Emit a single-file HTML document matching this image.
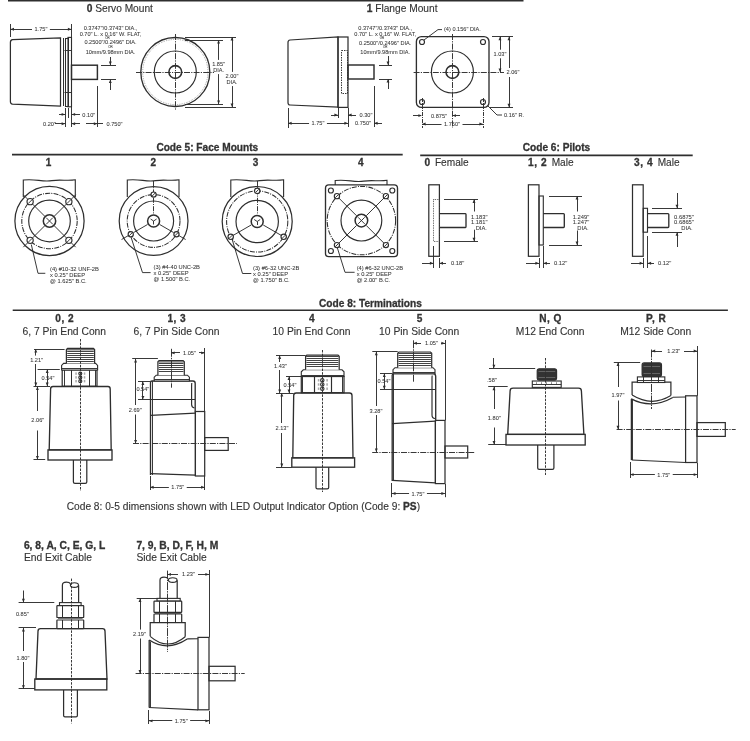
<!DOCTYPE html>
<html><head><meta charset="utf-8"><style>
html,body{margin:0;padding:0;background:#fff;width:750px;height:741px;overflow:hidden}
svg{display:block;font-family:"Liberation Sans",sans-serif;will-change:transform;filter:blur(0.3px)}
</style></head><body>
<svg width="750" height="741" viewBox="0 0 750 741">
<line x1="8" y1="0.6" x2="523.5" y2="0.6" stroke="#2e2e2e" stroke-width="1.68"/>
<text x="86.7" y="12" font-size="10.2" fill="#333" stroke="#333" stroke-width="0.12"><tspan font-weight="bold" stroke-width="0.3">0</tspan> Servo Mount</text>
<text x="366.7" y="12" font-size="10.2" fill="#333" stroke="#333" stroke-width="0.12"><tspan font-weight="bold" stroke-width="0.3">1</tspan> Flange Mount</text>
<path d="M12.5,39.7 L60.5,37.8 L60.5,106.2 L12.5,104.2 Q10.4,104 10.4,101.5 L10.4,42.4 Q10.4,40 12.5,39.7 Z" fill="none" stroke="#2e2e2e" stroke-width="1.23"/>
<line x1="63.5" y1="38" x2="63.5" y2="106" stroke="#2e2e2e" stroke-width="1.04"/>
<rect x="65.5" y="38.5" width="3" height="68" fill="none" stroke="#2e2e2e" stroke-width="1.04"/>
<rect x="68" y="37.4" width="3.5" height="69.4" fill="none" stroke="#2e2e2e" stroke-width="1.12"/>
<line x1="64.5" y1="50.5" x2="72" y2="50.5" stroke="#2e2e2e" stroke-width="0.95"/>
<line x1="64.5" y1="92.5" x2="72" y2="92.5" stroke="#2e2e2e" stroke-width="0.95"/>
<rect x="71.5" y="65.2" width="25.9" height="14.2" fill="none" stroke="#2e2e2e" stroke-width="1.46"/>
<line x1="10.5" y1="24" x2="10.5" y2="37" stroke="#2e2e2e" stroke-width="0.95"/>
<line x1="71.5" y1="24" x2="71.5" y2="37" stroke="#2e2e2e" stroke-width="0.95"/>
<line x1="10.4" y1="29.5" x2="32.01" y2="29.5" stroke="#2e2e2e" stroke-width="0.95"/>
<line x1="49.89" y1="29.5" x2="71.5" y2="29.5" stroke="#2e2e2e" stroke-width="0.95"/>
<polygon points="10.4,29.3 14,27.85 14,30.75" fill="#2e2e2e"/>
<polygon points="71.5,29.3 67.9,27.85 67.9,30.75" fill="#2e2e2e"/>
<text x="40.95" y="31.3" font-size="5.6" text-anchor="middle" font-weight="normal" fill="#333" stroke="#444" stroke-width="0.06">1.75"</text>
<text x="110.5" y="29.9" font-size="5.6" text-anchor="middle" font-weight="normal" fill="#333" stroke="#444" stroke-width="0.06">0.3747"/0.3743" DIA.,</text>
<text x="110.5" y="35.8" font-size="5.6" text-anchor="middle" font-weight="normal" fill="#333" stroke="#444" stroke-width="0.06">0.70" L. x 0.16" W. FLAT,</text>
<text x="110.5" y="44.3" font-size="5.6" text-anchor="middle" font-weight="normal" fill="#333" stroke="#444" stroke-width="0.06">0.2500"/0.2496" DIA.</text>
<text x="110.5" y="54.3" font-size="5.6" text-anchor="middle" font-weight="normal" fill="#333" stroke="#444" stroke-width="0.06">10mm/9.98mm DIA.</text>
<text x="107.5" y="38.6" font-size="3" text-anchor="middle" font-weight="normal" fill="#333" stroke="#444" stroke-width="0.06">OR</text>
<text x="110.5" y="47.8" font-size="3" text-anchor="middle" font-weight="normal" fill="#333" stroke="#444" stroke-width="0.06">OR</text>
<line x1="101" y1="65.5" x2="116" y2="65.5" stroke="#2e2e2e" stroke-width="0.95"/>
<line x1="101" y1="79.5" x2="116" y2="79.5" stroke="#2e2e2e" stroke-width="0.95"/>
<line x1="110.5" y1="57" x2="110.5" y2="65" stroke="#2e2e2e" stroke-width="0.95"/>
<polygon points="110.3,65.2 108.85,61.6 111.75,61.6" fill="#2e2e2e"/>
<line x1="110.5" y1="79.4" x2="110.5" y2="90" stroke="#2e2e2e" stroke-width="0.95"/>
<polygon points="110.3,79.4 108.85,83 111.75,83" fill="#2e2e2e"/>
<line x1="71.5" y1="92" x2="71.5" y2="127" stroke="#2e2e2e" stroke-width="0.95"/>
<line x1="65.5" y1="108" x2="65.5" y2="127" stroke="#2e2e2e" stroke-width="0.95"/>
<line x1="68.5" y1="108" x2="68.5" y2="118" stroke="#2e2e2e" stroke-width="0.95"/>
<line x1="97.5" y1="86" x2="97.5" y2="127" stroke="#2e2e2e" stroke-width="0.95"/>
<line x1="59" y1="114.5" x2="65.2" y2="114.5" stroke="#2e2e2e" stroke-width="0.95"/>
<polygon points="65.2,114.4 61.6,112.95 61.6,115.85" fill="#2e2e2e"/>
<line x1="71.5" y1="114.5" x2="80" y2="114.5" stroke="#2e2e2e" stroke-width="0.95"/>
<polygon points="71.5,114.4 75.1,112.95 75.1,115.85" fill="#2e2e2e"/>
<text x="88.8" y="116.6" font-size="5.6" text-anchor="middle" font-weight="normal" fill="#333" stroke="#444" stroke-width="0.06">0.10"</text>
<text x="49.5" y="125.8" font-size="5.6" text-anchor="middle" font-weight="normal" fill="#333" stroke="#444" stroke-width="0.06">0.20"</text>
<line x1="55" y1="123.5" x2="65.2" y2="123.5" stroke="#2e2e2e" stroke-width="0.95"/>
<polygon points="65.2,123.8 61.6,122.35 61.6,125.25" fill="#2e2e2e"/>
<line x1="71.5" y1="123.5" x2="80" y2="123.5" stroke="#2e2e2e" stroke-width="0.95"/>
<polygon points="71.5,123.8 75.1,122.35 75.1,125.25" fill="#2e2e2e"/>
<line x1="86" y1="123.5" x2="97.4" y2="123.5" stroke="#2e2e2e" stroke-width="0.95"/>
<polygon points="97.4,123.8 93.8,122.35 93.8,125.25" fill="#2e2e2e"/>
<line x1="97.4" y1="123.5" x2="103" y2="123.5" stroke="#2e2e2e" stroke-width="0.95"/>
<text x="114.5" y="125.6" font-size="5.6" text-anchor="middle" font-weight="normal" fill="#333" stroke="#444" stroke-width="0.06">0.750"</text>
<circle cx="175.3" cy="72" r="34.5" fill="none" stroke="#2e2e2e" stroke-width="1.34"/>
<circle cx="175.3" cy="72" r="32.6" fill="none" stroke="#888" stroke-width="0.95" stroke-dasharray="0.7 1.1"/>
<circle cx="175.3" cy="72" r="21" fill="none" stroke="#2e2e2e" stroke-width="1.17"/>
<circle cx="175.3" cy="72" r="6.4" fill="none" stroke="#2e2e2e" stroke-width="1.57"/>
<line x1="136" y1="72.5" x2="214" y2="72.5" stroke="#2e2e2e" stroke-width="0.95" stroke-dasharray="6 1.2 1.2 1.2"/>
<line x1="175.5" y1="34" x2="175.5" y2="110" stroke="#2e2e2e" stroke-width="0.95" stroke-dasharray="6 1.2 1.2 1.2"/>
<line x1="185" y1="40.5" x2="223" y2="40.5" stroke="#2e2e2e" stroke-width="0.95"/>
<line x1="185" y1="104.5" x2="223" y2="104.5" stroke="#2e2e2e" stroke-width="0.95"/>
<line x1="218.5" y1="40" x2="218.5" y2="59.9" stroke="#2e2e2e" stroke-width="0.95"/>
<line x1="218.5" y1="74.1" x2="218.5" y2="104" stroke="#2e2e2e" stroke-width="0.95"/>
<polygon points="218.6,40 217.15,43.6 220.05,43.6" fill="#2e2e2e"/>
<polygon points="218.6,104 217.15,100.4 220.05,100.4" fill="#2e2e2e"/>
<text x="218.6" y="66.2" font-size="5.6" text-anchor="middle" font-weight="normal" fill="#333" stroke="#444" stroke-width="0.06">1.85"</text>
<text x="218.6" y="71.8" font-size="5.6" text-anchor="middle" font-weight="normal" fill="#333" stroke="#444" stroke-width="0.06">DIA.</text>
<line x1="185" y1="37.5" x2="236" y2="37.5" stroke="#2e2e2e" stroke-width="0.95"/>
<line x1="185" y1="107.5" x2="236" y2="107.5" stroke="#2e2e2e" stroke-width="0.95"/>
<line x1="232.5" y1="37" x2="232.5" y2="71.9" stroke="#2e2e2e" stroke-width="0.95"/>
<line x1="232.5" y1="86.1" x2="232.5" y2="107" stroke="#2e2e2e" stroke-width="0.95"/>
<polygon points="232,37 230.55,40.6 233.45,40.6" fill="#2e2e2e"/>
<polygon points="232,107 230.55,103.4 233.45,103.4" fill="#2e2e2e"/>
<text x="232" y="78.2" font-size="5.6" text-anchor="middle" font-weight="normal" fill="#333" stroke="#444" stroke-width="0.06">2.00"</text>
<text x="232" y="83.8" font-size="5.6" text-anchor="middle" font-weight="normal" fill="#333" stroke="#444" stroke-width="0.06">DIA.</text>
<path d="M290,40 L338,37 L338,107 L290,105 Q288,105 288,102.5 L288,42.5 Q288,40.2 290,40 Z" fill="none" stroke="#2e2e2e" stroke-width="1.23"/>
<rect x="338" y="37" width="10" height="70.4" fill="none" stroke="#2e2e2e" stroke-width="1.23"/>
<rect x="341.5" y="50.5" width="6" height="43" fill="none" stroke="#2e2e2e" stroke-width="0.95" stroke-dasharray="1.5 1"/>
<rect x="348" y="65" width="26" height="14" fill="none" stroke="#2e2e2e" stroke-width="1.46"/>
<text x="385.2" y="30" font-size="5.6" text-anchor="middle" font-weight="normal" fill="#333" stroke="#444" stroke-width="0.06">0.3747"/0.3743" DIA.,</text>
<text x="385.2" y="35.5" font-size="5.6" text-anchor="middle" font-weight="normal" fill="#333" stroke="#444" stroke-width="0.06">0.70" L. x 0.16" W. FLAT,</text>
<text x="385.2" y="44.5" font-size="5.6" text-anchor="middle" font-weight="normal" fill="#333" stroke="#444" stroke-width="0.06">0.2500"/0.2496" DIA.</text>
<text x="385.2" y="54" font-size="5.6" text-anchor="middle" font-weight="normal" fill="#333" stroke="#444" stroke-width="0.06">10mm/9.98mm DIA.</text>
<text x="382" y="38.8" font-size="3" text-anchor="middle" font-weight="normal" fill="#333" stroke="#444" stroke-width="0.06">OR</text>
<text x="385.2" y="48" font-size="3" text-anchor="middle" font-weight="normal" fill="#333" stroke="#444" stroke-width="0.06">OR</text>
<line x1="379" y1="65.5" x2="392" y2="65.5" stroke="#2e2e2e" stroke-width="0.95"/>
<line x1="379" y1="79.5" x2="392" y2="79.5" stroke="#2e2e2e" stroke-width="0.95"/>
<line x1="388.5" y1="56" x2="388.5" y2="65" stroke="#2e2e2e" stroke-width="0.95"/>
<polygon points="388,65 386.55,61.4 389.45,61.4" fill="#2e2e2e"/>
<line x1="388.5" y1="79" x2="388.5" y2="89" stroke="#2e2e2e" stroke-width="0.95"/>
<polygon points="388,79 386.55,82.6 389.45,82.6" fill="#2e2e2e"/>
<line x1="374.5" y1="86" x2="374.5" y2="127" stroke="#2e2e2e" stroke-width="0.95"/>
<line x1="338.5" y1="108" x2="338.5" y2="118" stroke="#2e2e2e" stroke-width="0.95"/>
<line x1="348.5" y1="108" x2="348.5" y2="127" stroke="#2e2e2e" stroke-width="0.95"/>
<line x1="288.5" y1="108" x2="288.5" y2="128" stroke="#2e2e2e" stroke-width="0.95"/>
<line x1="331" y1="115.5" x2="338" y2="115.5" stroke="#2e2e2e" stroke-width="0.95"/>
<polygon points="338,115 334.4,113.55 334.4,116.45" fill="#2e2e2e"/>
<line x1="348" y1="115.5" x2="356" y2="115.5" stroke="#2e2e2e" stroke-width="0.95"/>
<polygon points="348,115 351.6,113.55 351.6,116.45" fill="#2e2e2e"/>
<text x="366" y="117" font-size="5.6" text-anchor="middle" font-weight="normal" fill="#333" stroke="#444" stroke-width="0.06">0.30"</text>
<line x1="288" y1="123.5" x2="309.06" y2="123.5" stroke="#2e2e2e" stroke-width="0.95"/>
<line x1="326.94" y1="123.5" x2="348" y2="123.5" stroke="#2e2e2e" stroke-width="0.95"/>
<polygon points="288,123.2 291.6,121.75 291.6,124.65" fill="#2e2e2e"/>
<polygon points="348,123.2 344.4,121.75 344.4,124.65" fill="#2e2e2e"/>
<text x="318" y="125.2" font-size="5.6" text-anchor="middle" font-weight="normal" fill="#333" stroke="#444" stroke-width="0.06">1.75"</text>
<text x="363" y="125.2" font-size="5.6" text-anchor="middle" font-weight="normal" fill="#333" stroke="#444" stroke-width="0.06">0.750"</text>
<line x1="374" y1="123.5" x2="382" y2="123.5" stroke="#2e2e2e" stroke-width="0.95"/>
<polygon points="374,123.2 377.6,121.75 377.6,124.65" fill="#2e2e2e"/>
<rect x="416.4" y="36.6" width="72.6" height="70.8" rx="5" fill="none" stroke="#2e2e2e" stroke-width="1.34"/>
<circle cx="422" cy="42" r="2.5" fill="none" stroke="#2e2e2e" stroke-width="1.17"/>
<circle cx="483" cy="42" r="2.5" fill="none" stroke="#2e2e2e" stroke-width="1.17"/>
<circle cx="422" cy="102" r="2.5" fill="none" stroke="#2e2e2e" stroke-width="1.17"/>
<circle cx="483" cy="102" r="2.5" fill="none" stroke="#2e2e2e" stroke-width="1.17"/>
<circle cx="452.4" cy="72" r="21" fill="none" stroke="#2e2e2e" stroke-width="1.17"/>
<circle cx="452.4" cy="72" r="6.4" fill="none" stroke="#2e2e2e" stroke-width="1.57"/>
<line x1="413.6" y1="72.5" x2="504" y2="72.5" stroke="#2e2e2e" stroke-width="0.95" stroke-dasharray="6 1.2 1.2 1.2"/>
<line x1="452.5" y1="34" x2="452.5" y2="128" stroke="#2e2e2e" stroke-width="0.95" stroke-dasharray="6 1.2 1.2 1.2"/>
<line x1="422.5" y1="98" x2="422.5" y2="128" stroke="#2e2e2e" stroke-width="0.95" stroke-dasharray="4 1 1 1"/>
<line x1="483.5" y1="98" x2="483.5" y2="128" stroke="#2e2e2e" stroke-width="0.95" stroke-dasharray="4 1 1 1"/>
<text x="444" y="30.5" font-size="5.6" text-anchor="start" font-weight="normal" fill="#333" stroke="#444" stroke-width="0.06">(4) 0.156" DIA.</text>
<polyline points="442,29.6 438,29.6 424,40" fill="none" stroke="#2e2e2e" stroke-width="0.95" stroke-linejoin="round"/>
<line x1="492" y1="36.5" x2="513" y2="36.5" stroke="#2e2e2e" stroke-width="0.95"/>
<line x1="490" y1="107.5" x2="513" y2="107.5" stroke="#2e2e2e" stroke-width="0.95"/>
<line x1="500.5" y1="36.6" x2="500.5" y2="49.7" stroke="#2e2e2e" stroke-width="0.95"/>
<line x1="500.5" y1="58.3" x2="500.5" y2="72" stroke="#2e2e2e" stroke-width="0.95"/>
<polygon points="500,36.6 498.55,40.2 501.45,40.2" fill="#2e2e2e"/>
<polygon points="500,72 498.55,68.4 501.45,68.4" fill="#2e2e2e"/>
<text x="500" y="56" font-size="5.6" text-anchor="middle" font-weight="normal" fill="#333" stroke="#444" stroke-width="0.06">1.03"</text>
<line x1="509.5" y1="36.6" x2="509.5" y2="68" stroke="#2e2e2e" stroke-width="0.95"/>
<line x1="509.5" y1="77" x2="509.5" y2="107.4" stroke="#2e2e2e" stroke-width="0.95"/>
<polygon points="509,36.6 507.55,40.2 510.45,40.2" fill="#2e2e2e"/>
<polygon points="509,107.4 507.55,103.8 510.45,103.8" fill="#2e2e2e"/>
<text x="513" y="74" font-size="5.6" text-anchor="middle" font-weight="normal" fill="#333" stroke="#444" stroke-width="0.06">2.06"</text>
<polyline points="488,106 497,115 502,115" fill="none" stroke="#2e2e2e" stroke-width="0.95" stroke-linejoin="round"/>
<text x="504" y="117" font-size="5.6" text-anchor="start" font-weight="normal" fill="#333" stroke="#444" stroke-width="0.06">0.16" R.</text>
<line x1="413" y1="115.5" x2="421" y2="115.5" stroke="#2e2e2e" stroke-width="0.95"/>
<polygon points="422,115.6 418.4,114.15 418.4,117.05" fill="#2e2e2e"/>
<line x1="452.4" y1="115.5" x2="460" y2="115.5" stroke="#2e2e2e" stroke-width="0.95"/>
<polygon points="452.4,115.6 456,114.15 456,117.05" fill="#2e2e2e"/>
<text x="439" y="117.6" font-size="5.6" text-anchor="middle" font-weight="normal" fill="#333" stroke="#444" stroke-width="0.06">0.875"</text>
<line x1="422" y1="124.5" x2="441.5" y2="124.5" stroke="#2e2e2e" stroke-width="0.95"/>
<line x1="462.5" y1="124.5" x2="483" y2="124.5" stroke="#2e2e2e" stroke-width="0.95"/>
<polygon points="422,124 425.6,122.55 425.6,125.45" fill="#2e2e2e"/>
<polygon points="483,124 479.4,122.55 479.4,125.45" fill="#2e2e2e"/>
<text x="452" y="126" font-size="5.6" text-anchor="middle" font-weight="normal" fill="#333" stroke="#444" stroke-width="0.06">1.750"</text>
<line x1="12" y1="154.6" x2="402.7" y2="154.6" stroke="#2e2e2e" stroke-width="1.57"/>
<text x="207.3" y="150.8" font-size="10.15" text-anchor="middle" font-weight="bold" fill="#333" stroke="#333" stroke-width="0.3">Code 5: Face Mounts</text>
<text x="48.5" y="165.8" font-size="10" text-anchor="middle" font-weight="bold" fill="#333" stroke="#333" stroke-width="0.3">1</text>
<text x="153.3" y="165.8" font-size="10" text-anchor="middle" font-weight="bold" fill="#333" stroke="#333" stroke-width="0.3">2</text>
<text x="255.5" y="165.8" font-size="10" text-anchor="middle" font-weight="bold" fill="#333" stroke="#333" stroke-width="0.3">3</text>
<text x="360.8" y="165.8" font-size="10" text-anchor="middle" font-weight="bold" fill="#333" stroke="#333" stroke-width="0.3">4</text>
<path d="M23.3,197 L23.3,180 C36.3,178.5 41.5,182.2 51.9,180.6 C60.74,179.2 67.5,181.2 75.3,179.8 L75.3,197" fill="none" stroke="#2e2e2e" stroke-width="1.12"/>
<circle cx="49.5" cy="221" r="34.6" fill="none" stroke="#2e2e2e" stroke-width="1.23"/>
<circle cx="49.5" cy="221" r="27.7" fill="none" stroke="#2e2e2e" stroke-width="1.04" stroke-dasharray="5 1.2 1 1.2"/>
<circle cx="49.5" cy="221" r="20.8" fill="none" stroke="#2e2e2e" stroke-width="1.17"/>
<line x1="54.45" y1="225.95" x2="66.82" y2="238.32" stroke="#2e2e2e" stroke-width="0.95"/>
<line x1="71.07" y1="242.57" x2="75.66" y2="247.16" stroke="#2e2e2e" stroke-width="0.95"/>
<line x1="44.55" y1="225.95" x2="32.18" y2="238.32" stroke="#2e2e2e" stroke-width="0.95"/>
<line x1="27.93" y1="242.57" x2="23.34" y2="247.16" stroke="#2e2e2e" stroke-width="0.95"/>
<line x1="44.55" y1="216.05" x2="32.18" y2="203.68" stroke="#2e2e2e" stroke-width="0.95"/>
<line x1="27.93" y1="199.43" x2="23.34" y2="194.84" stroke="#2e2e2e" stroke-width="0.95"/>
<line x1="54.45" y1="216.05" x2="66.82" y2="203.68" stroke="#2e2e2e" stroke-width="0.95"/>
<line x1="71.07" y1="199.43" x2="75.66" y2="194.84" stroke="#2e2e2e" stroke-width="0.95"/>
<circle cx="49.5" cy="221" r="6.2" fill="#fff" stroke="#2e2e2e" stroke-width="1.51"/>
<line x1="46.2" y1="217.7" x2="52.8" y2="224.3" stroke="#2e2e2e" stroke-width="0.95"/>
<line x1="46.2" y1="224.3" x2="52.8" y2="217.7" stroke="#2e2e2e" stroke-width="0.95"/>
<circle cx="68.87" cy="240.37" r="3.1" fill="#fff" stroke="#2e2e2e" stroke-width="1.17"/>
<line x1="67.01" y1="242.23" x2="70.73" y2="238.51" stroke="#2e2e2e" stroke-width="0.95"/>
<circle cx="30.13" cy="240.37" r="3.1" fill="#fff" stroke="#2e2e2e" stroke-width="1.17"/>
<line x1="28.27" y1="242.23" x2="31.99" y2="238.51" stroke="#2e2e2e" stroke-width="0.95"/>
<circle cx="30.13" cy="201.63" r="3.1" fill="#fff" stroke="#2e2e2e" stroke-width="1.17"/>
<line x1="28.27" y1="203.49" x2="31.99" y2="199.77" stroke="#2e2e2e" stroke-width="0.95"/>
<circle cx="68.87" cy="201.63" r="3.1" fill="#fff" stroke="#2e2e2e" stroke-width="1.17"/>
<line x1="67.01" y1="203.49" x2="70.73" y2="199.77" stroke="#2e2e2e" stroke-width="0.95"/>
<polyline points="31.3,244.5 38,273.3 45.3,273.3" fill="none" stroke="#2e2e2e" stroke-width="0.95" stroke-linejoin="round"/>
<text x="50" y="270.6" font-size="5.75" text-anchor="start" font-weight="normal" fill="#333" stroke="#444" stroke-width="0.06">(4) #10-32 UNF-2B</text>
<text x="50" y="276.55" font-size="5.75" text-anchor="start" font-weight="normal" fill="#333" stroke="#444" stroke-width="0.06">x 0.25" DEEP</text>
<text x="50" y="282.5" font-size="5.75" text-anchor="start" font-weight="normal" fill="#333" stroke="#444" stroke-width="0.06">@ 1.625" B.C.</text>
<path d="M127.3,197 L127.3,180 C140.22,178.5 145.39,182.2 155.74,180.6 C164.52,179.2 171.25,181.2 179,179.8 L179,197" fill="none" stroke="#2e2e2e" stroke-width="1.12"/>
<circle cx="153.6" cy="221" r="34.4" fill="none" stroke="#2e2e2e" stroke-width="1.23"/>
<circle cx="153.6" cy="221" r="26.4" fill="none" stroke="#2e2e2e" stroke-width="1.04" stroke-dasharray="5 1.2 1 1.2"/>
<circle cx="153.6" cy="221" r="20" fill="none" stroke="#2e2e2e" stroke-width="1.17"/>
<line x1="153.5" y1="181" x2="153.5" y2="214" stroke="#2e2e2e" stroke-width="0.95" stroke-dasharray="5 1.2 1 1.2"/>
<line x1="159.66" y1="224.5" x2="173.52" y2="232.5" stroke="#2e2e2e" stroke-width="0.95"/>
<line x1="179.15" y1="235.75" x2="185.64" y2="239.5" stroke="#2e2e2e" stroke-width="0.95"/>
<line x1="147.54" y1="224.5" x2="133.68" y2="232.5" stroke="#2e2e2e" stroke-width="0.95"/>
<line x1="128.05" y1="235.75" x2="121.56" y2="239.5" stroke="#2e2e2e" stroke-width="0.95"/>
<circle cx="153.6" cy="221" r="6" fill="#fff" stroke="#2e2e2e" stroke-width="1.51"/>
<line x1="153.5" y1="221" x2="153.5" y2="224.5" stroke="#2e2e2e" stroke-width="0.95"/>
<line x1="153.6" y1="221" x2="150.6" y2="219" stroke="#2e2e2e" stroke-width="0.95"/>
<line x1="153.6" y1="221" x2="156.6" y2="219" stroke="#2e2e2e" stroke-width="0.95"/>
<circle cx="153.6" cy="194.6" r="2.6" fill="#fff" stroke="#2e2e2e" stroke-width="1.17"/>
<line x1="152.04" y1="196.16" x2="155.16" y2="193.04" stroke="#2e2e2e" stroke-width="0.95"/>
<circle cx="176.46" cy="234.2" r="2.6" fill="#fff" stroke="#2e2e2e" stroke-width="1.17"/>
<line x1="174.9" y1="235.76" x2="178.02" y2="232.64" stroke="#2e2e2e" stroke-width="0.95"/>
<circle cx="130.74" cy="234.2" r="2.6" fill="#fff" stroke="#2e2e2e" stroke-width="1.17"/>
<line x1="129.18" y1="235.76" x2="132.3" y2="232.64" stroke="#2e2e2e" stroke-width="0.95"/>
<polyline points="131,237 142.5,272.6 150.6,272.6" fill="none" stroke="#2e2e2e" stroke-width="0.95" stroke-linejoin="round"/>
<text x="153.6" y="269.4" font-size="5.75" text-anchor="start" font-weight="normal" fill="#333" stroke="#444" stroke-width="0.06">(3) #4-40 UNC-2B</text>
<text x="153.6" y="275.35" font-size="5.75" text-anchor="start" font-weight="normal" fill="#333" stroke="#444" stroke-width="0.06">x 0.25" DEEP</text>
<text x="153.6" y="281.3" font-size="5.75" text-anchor="start" font-weight="normal" fill="#333" stroke="#444" stroke-width="0.06">@ 1.500" B.C.</text>
<path d="M230.8,197 L230.8,180 C244,178.5 249.28,182.2 259.84,180.6 C268.82,179.2 275.68,181.2 283.6,179.8 L283.6,197" fill="none" stroke="#2e2e2e" stroke-width="1.12"/>
<circle cx="257.2" cy="221.5" r="35" fill="none" stroke="#2e2e2e" stroke-width="1.23"/>
<circle cx="257.2" cy="221.5" r="30.6" fill="none" stroke="#2e2e2e" stroke-width="1.04" stroke-dasharray="5 1.2 1 1.2"/>
<circle cx="257.2" cy="221.5" r="21.2" fill="none" stroke="#2e2e2e" stroke-width="1.17"/>
<line x1="257.5" y1="181" x2="257.5" y2="214.5" stroke="#2e2e2e" stroke-width="0.95" stroke-dasharray="5 1.2 1 1.2"/>
<line x1="263.26" y1="225" x2="281.45" y2="235.5" stroke="#2e2e2e" stroke-width="0.95"/>
<line x1="251.14" y1="225" x2="232.95" y2="235.5" stroke="#2e2e2e" stroke-width="0.95"/>
<circle cx="257.2" cy="221.5" r="6" fill="#fff" stroke="#2e2e2e" stroke-width="1.51"/>
<line x1="257.5" y1="221.5" x2="257.5" y2="225" stroke="#2e2e2e" stroke-width="0.95"/>
<line x1="257.2" y1="221.5" x2="254.2" y2="219.5" stroke="#2e2e2e" stroke-width="0.95"/>
<line x1="257.2" y1="221.5" x2="260.2" y2="219.5" stroke="#2e2e2e" stroke-width="0.95"/>
<circle cx="257.2" cy="190.9" r="2.7" fill="#fff" stroke="#2e2e2e" stroke-width="1.17"/>
<line x1="255.58" y1="192.52" x2="258.82" y2="189.28" stroke="#2e2e2e" stroke-width="0.95"/>
<circle cx="283.7" cy="236.8" r="2.7" fill="#fff" stroke="#2e2e2e" stroke-width="1.17"/>
<line x1="282.08" y1="238.42" x2="285.32" y2="235.18" stroke="#2e2e2e" stroke-width="0.95"/>
<circle cx="230.7" cy="236.8" r="2.7" fill="#fff" stroke="#2e2e2e" stroke-width="1.17"/>
<line x1="229.08" y1="238.42" x2="232.32" y2="235.18" stroke="#2e2e2e" stroke-width="0.95"/>
<polyline points="232,239 242.5,273.5 251.3,273.5" fill="none" stroke="#2e2e2e" stroke-width="0.95" stroke-linejoin="round"/>
<text x="253" y="270.1" font-size="5.75" text-anchor="start" font-weight="normal" fill="#333" stroke="#444" stroke-width="0.06">(3) #6-32 UNC-2B</text>
<text x="253" y="276.05" font-size="5.75" text-anchor="start" font-weight="normal" fill="#333" stroke="#444" stroke-width="0.06">x 0.25" DEEP</text>
<text x="253" y="282" font-size="5.75" text-anchor="start" font-weight="normal" fill="#333" stroke="#444" stroke-width="0.06">@ 1.750" B.C.</text>
<path d="M335.2,185 L335.2,180.5 C348.15,179 353.33,182.7 363.69,181.1 C372.5,179.7 379.23,181.7 387,180.3 L387,185" fill="none" stroke="#2e2e2e" stroke-width="1.12"/>
<rect x="325.5" y="184.9" width="72" height="71.7" rx="3.2" fill="#fff" stroke="#2e2e2e" stroke-width="1.34"/>
<circle cx="330.9" cy="190.5" r="2.5" fill="none" stroke="#2e2e2e" stroke-width="1.17"/>
<circle cx="392.3" cy="190.5" r="2.5" fill="none" stroke="#2e2e2e" stroke-width="1.17"/>
<circle cx="330.9" cy="251" r="2.5" fill="none" stroke="#2e2e2e" stroke-width="1.17"/>
<circle cx="392.3" cy="251" r="2.5" fill="none" stroke="#2e2e2e" stroke-width="1.17"/>
<circle cx="361.4" cy="220.6" r="34.2" fill="none" stroke="#2e2e2e" stroke-width="1.04" stroke-dasharray="5 1.2 1 1.2"/>
<circle cx="361.4" cy="220.6" r="20.4" fill="none" stroke="#2e2e2e" stroke-width="1.17"/>
<line x1="366.35" y1="225.55" x2="384.03" y2="243.23" stroke="#2e2e2e" stroke-width="0.95"/>
<line x1="356.45" y1="225.55" x2="338.77" y2="243.23" stroke="#2e2e2e" stroke-width="0.95"/>
<line x1="356.45" y1="215.65" x2="338.77" y2="197.97" stroke="#2e2e2e" stroke-width="0.95"/>
<line x1="366.35" y1="215.65" x2="384.03" y2="197.97" stroke="#2e2e2e" stroke-width="0.95"/>
<circle cx="361.4" cy="220.6" r="6.3" fill="#fff" stroke="#2e2e2e" stroke-width="1.51"/>
<line x1="358.1" y1="217.3" x2="364.7" y2="223.9" stroke="#2e2e2e" stroke-width="0.95"/>
<line x1="358.1" y1="223.9" x2="364.7" y2="217.3" stroke="#2e2e2e" stroke-width="0.95"/>
<circle cx="385.87" cy="245.07" r="2.6" fill="#fff" stroke="#2e2e2e" stroke-width="1.17"/>
<line x1="384.31" y1="246.63" x2="387.43" y2="243.51" stroke="#2e2e2e" stroke-width="0.95"/>
<circle cx="336.93" cy="245.07" r="2.6" fill="#fff" stroke="#2e2e2e" stroke-width="1.17"/>
<line x1="335.37" y1="246.63" x2="338.49" y2="243.51" stroke="#2e2e2e" stroke-width="0.95"/>
<circle cx="336.93" cy="196.13" r="2.6" fill="#fff" stroke="#2e2e2e" stroke-width="1.17"/>
<line x1="335.37" y1="197.69" x2="338.49" y2="194.57" stroke="#2e2e2e" stroke-width="0.95"/>
<circle cx="385.87" cy="196.13" r="2.6" fill="#fff" stroke="#2e2e2e" stroke-width="1.17"/>
<line x1="384.31" y1="197.69" x2="387.43" y2="194.57" stroke="#2e2e2e" stroke-width="0.95"/>
<polyline points="337.4,248 345,272.3 354.6,272.3" fill="none" stroke="#2e2e2e" stroke-width="0.95" stroke-linejoin="round"/>
<text x="356.7" y="269.8" font-size="5.75" text-anchor="start" font-weight="normal" fill="#333" stroke="#444" stroke-width="0.06">(4) #6-32 UNC-2B</text>
<text x="356.7" y="275.75" font-size="5.75" text-anchor="start" font-weight="normal" fill="#333" stroke="#444" stroke-width="0.06">x 0.25" DEEP</text>
<text x="356.7" y="281.7" font-size="5.75" text-anchor="start" font-weight="normal" fill="#333" stroke="#444" stroke-width="0.06">@ 2.00" B.C.</text>
<line x1="420.2" y1="155.4" x2="692.7" y2="155.4" stroke="#2e2e2e" stroke-width="1.57"/>
<text x="556.5" y="150.8" font-size="10.15" text-anchor="middle" font-weight="bold" fill="#333" stroke="#333" stroke-width="0.3">Code 6: Pilots</text>
<text x="424.5" y="166" font-size="10.15" fill="#333" stroke="#333" stroke-width="0.12"><tspan font-weight="bold" stroke-width="0.3">0</tspan><tspan dx="4.8">Female</tspan></text>
<text x="528" y="166" font-size="10.15" fill="#333" stroke="#333" stroke-width="0.12"><tspan font-weight="bold" stroke-width="0.3" letter-spacing="0.6">1, 2</tspan><tspan dx="4.4">Male</tspan></text>
<text x="634" y="166" font-size="10.15" fill="#333" stroke="#333" stroke-width="0.12"><tspan font-weight="bold" stroke-width="0.3" letter-spacing="0.6">3, 4</tspan><tspan dx="4.4">Male</tspan></text>
<rect x="428.8" y="184.8" width="10.6" height="71.5" fill="none" stroke="#2e2e2e" stroke-width="1.23"/>
<path d="M439.4,213.6 L465.5,213.6 Q466,213.6 466,214.5 L466,226.6 Q466,227.5 465.5,227.5 L439.4,227.5" fill="none" stroke="#2e2e2e" stroke-width="1.34"/>
<line x1="444" y1="199.5" x2="478" y2="199.5" stroke="#2e2e2e" stroke-width="0.95"/>
<line x1="444" y1="241.5" x2="478" y2="241.5" stroke="#2e2e2e" stroke-width="0.95"/>
<line x1="474.5" y1="199.3" x2="474.5" y2="211.5" stroke="#2e2e2e" stroke-width="0.95"/>
<line x1="474.5" y1="229.7" x2="474.5" y2="241.3" stroke="#2e2e2e" stroke-width="0.95"/>
<polygon points="474,199.3 472.55,202.9 475.45,202.9" fill="#2e2e2e"/>
<polygon points="474,241.3 472.55,237.7 475.45,237.7" fill="#2e2e2e"/>
<rect x="433.5" y="199.5" width="6" height="42" fill="none" stroke="#444" stroke-width="0.95" stroke-dasharray="0.8 0.9"/>
<text x="479.3" y="218.7" font-size="5.8" text-anchor="middle" font-weight="normal" fill="#333" stroke="#444" stroke-width="0.06">1.183"</text>
<text x="479.3" y="224.4" font-size="5.8" text-anchor="middle" font-weight="normal" fill="#333" stroke="#444" stroke-width="0.06">1.181"</text>
<text x="481.3" y="229.9" font-size="5.8" text-anchor="middle" font-weight="normal" fill="#333" stroke="#444" stroke-width="0.06">DIA.</text>
<line x1="433.5" y1="246" x2="433.5" y2="268" stroke="#2e2e2e" stroke-width="0.95"/>
<line x1="439.5" y1="258" x2="439.5" y2="268" stroke="#2e2e2e" stroke-width="0.95"/>
<line x1="422" y1="263.5" x2="433.5" y2="263.5" stroke="#2e2e2e" stroke-width="0.95"/>
<polygon points="433.5,263.3 429.9,261.85 429.9,264.75" fill="#2e2e2e"/>
<line x1="439.4" y1="263.5" x2="446" y2="263.5" stroke="#2e2e2e" stroke-width="0.95"/>
<polygon points="439.4,263.3 443,261.85 443,264.75" fill="#2e2e2e"/>
<text x="451" y="265.2" font-size="5.8" text-anchor="start" font-weight="normal" fill="#333" stroke="#444" stroke-width="0.06">0.18"</text>
<rect x="528.4" y="184.8" width="10.6" height="71.5" fill="none" stroke="#2e2e2e" stroke-width="1.23"/>
<rect x="539" y="196" width="4.3" height="49" fill="none" stroke="#2e2e2e" stroke-width="1.12"/>
<path d="M543.3,213.6 L563.5,213.6 Q564.3,213.6 564.3,214.5 L564.3,226.6 Q564.3,227.5 563.5,227.5 L543.3,227.5" fill="none" stroke="#2e2e2e" stroke-width="1.34"/>
<line x1="549" y1="196.5" x2="582" y2="196.5" stroke="#2e2e2e" stroke-width="0.95"/>
<line x1="549" y1="245.5" x2="582" y2="245.5" stroke="#2e2e2e" stroke-width="0.95"/>
<line x1="577.5" y1="196" x2="577.5" y2="211.5" stroke="#2e2e2e" stroke-width="0.95"/>
<line x1="577.5" y1="230.5" x2="577.5" y2="245" stroke="#2e2e2e" stroke-width="0.95"/>
<polygon points="577,196 575.55,199.6 578.45,199.6" fill="#2e2e2e"/>
<polygon points="577,245 575.55,241.4 578.45,241.4" fill="#2e2e2e"/>
<text x="581" y="218.7" font-size="5.8" text-anchor="middle" font-weight="normal" fill="#333" stroke="#444" stroke-width="0.06">1.249"</text>
<text x="581" y="224.2" font-size="5.8" text-anchor="middle" font-weight="normal" fill="#333" stroke="#444" stroke-width="0.06">1.247"</text>
<text x="583" y="229.7" font-size="5.8" text-anchor="middle" font-weight="normal" fill="#333" stroke="#444" stroke-width="0.06">DIA.</text>
<line x1="539.5" y1="258" x2="539.5" y2="268" stroke="#2e2e2e" stroke-width="0.95"/>
<line x1="543.5" y1="246" x2="543.5" y2="268" stroke="#2e2e2e" stroke-width="0.95"/>
<line x1="526" y1="263.5" x2="539" y2="263.5" stroke="#2e2e2e" stroke-width="0.95"/>
<polygon points="539,263.3 535.4,261.85 535.4,264.75" fill="#2e2e2e"/>
<line x1="543.3" y1="263.5" x2="550" y2="263.5" stroke="#2e2e2e" stroke-width="0.95"/>
<polygon points="543.3,263.3 546.9,261.85 546.9,264.75" fill="#2e2e2e"/>
<text x="554" y="265.2" font-size="5.8" text-anchor="start" font-weight="normal" fill="#333" stroke="#444" stroke-width="0.06">0.12"</text>
<rect x="632.5" y="184.8" width="10.7" height="71.5" fill="none" stroke="#2e2e2e" stroke-width="1.23"/>
<rect x="643.2" y="208.3" width="4.3" height="23.9" fill="none" stroke="#2e2e2e" stroke-width="1.12"/>
<path d="M647.5,213.6 L668,213.6 Q668.8,213.6 668.8,214.5 L668.8,226.6 Q668.8,227.5 668,227.5 L647.5,227.5" fill="none" stroke="#2e2e2e" stroke-width="1.34"/>
<line x1="652" y1="208.5" x2="682" y2="208.5" stroke="#2e2e2e" stroke-width="0.95"/>
<line x1="652" y1="232.5" x2="682" y2="232.5" stroke="#2e2e2e" stroke-width="0.95"/>
<line x1="677.5" y1="193" x2="677.5" y2="208.3" stroke="#2e2e2e" stroke-width="0.95"/>
<polygon points="677,208.3 675.55,204.7 678.45,204.7" fill="#2e2e2e"/>
<line x1="677.5" y1="232.2" x2="677.5" y2="247" stroke="#2e2e2e" stroke-width="0.95"/>
<polygon points="677,232.2 675.55,235.8 678.45,235.8" fill="#2e2e2e"/>
<text x="684" y="218.7" font-size="5.8" text-anchor="middle" font-weight="normal" fill="#333" stroke="#444" stroke-width="0.06">0.6875"</text>
<text x="684" y="224.2" font-size="5.8" text-anchor="middle" font-weight="normal" fill="#333" stroke="#444" stroke-width="0.06">0.6865"</text>
<text x="687" y="229.7" font-size="5.8" text-anchor="middle" font-weight="normal" fill="#333" stroke="#444" stroke-width="0.06">DIA.</text>
<line x1="643.5" y1="258" x2="643.5" y2="268" stroke="#2e2e2e" stroke-width="0.95"/>
<line x1="647.5" y1="236" x2="647.5" y2="268" stroke="#2e2e2e" stroke-width="0.95"/>
<line x1="631" y1="263.5" x2="643.2" y2="263.5" stroke="#2e2e2e" stroke-width="0.95"/>
<polygon points="643.2,263.3 639.6,261.85 639.6,264.75" fill="#2e2e2e"/>
<line x1="647.5" y1="263.5" x2="654" y2="263.5" stroke="#2e2e2e" stroke-width="0.95"/>
<polygon points="647.5,263.3 651.1,261.85 651.1,264.75" fill="#2e2e2e"/>
<text x="658" y="265.2" font-size="5.8" text-anchor="start" font-weight="normal" fill="#333" stroke="#444" stroke-width="0.06">0.12"</text>
<line x1="12.7" y1="310.3" x2="727.9" y2="310.3" stroke="#2e2e2e" stroke-width="1.57"/>
<text x="370.4" y="306.8" font-size="10.15" text-anchor="middle" font-weight="bold" fill="#333" stroke="#333" stroke-width="0.3">Code 8: Terminations</text>
<text x="64.65" y="322.3" font-size="10.1" text-anchor="middle" font-weight="bold" fill="#333" stroke="#333" stroke-width="0.3" letter-spacing="0.45">0, 2</text>
<text x="64.3" y="335.4" font-size="10.3" text-anchor="middle" font-weight="normal" fill="#333" stroke="#333" stroke-width="0.12">6, 7 Pin End Conn</text>
<text x="176.85" y="322.3" font-size="10.1" text-anchor="middle" font-weight="bold" fill="#333" stroke="#333" stroke-width="0.3" letter-spacing="0.45">1, 3</text>
<text x="176.5" y="335.4" font-size="10.3" text-anchor="middle" font-weight="normal" fill="#333" stroke="#333" stroke-width="0.12">6, 7 Pin Side Conn</text>
<text x="311.85" y="322.3" font-size="10.1" text-anchor="middle" font-weight="bold" fill="#333" stroke="#333" stroke-width="0.3">4</text>
<text x="311.5" y="335.4" font-size="10.3" text-anchor="middle" font-weight="normal" fill="#333" stroke="#333" stroke-width="0.12">10 Pin End Conn</text>
<text x="419.55" y="322.3" font-size="10.1" text-anchor="middle" font-weight="bold" fill="#333" stroke="#333" stroke-width="0.3">5</text>
<text x="419.2" y="335.4" font-size="10.3" text-anchor="middle" font-weight="normal" fill="#333" stroke="#333" stroke-width="0.12">10 Pin Side Conn</text>
<text x="550.55" y="322.3" font-size="10.1" text-anchor="middle" font-weight="bold" fill="#333" stroke="#333" stroke-width="0.3" letter-spacing="0.45">N, Q</text>
<text x="550.2" y="335.4" font-size="10.3" text-anchor="middle" font-weight="normal" fill="#333" stroke="#333" stroke-width="0.12">M12 End Conn</text>
<text x="656.15" y="322.3" font-size="10.1" text-anchor="middle" font-weight="bold" fill="#333" stroke="#333" stroke-width="0.3" letter-spacing="0.45">P, R</text>
<text x="655.8" y="335.4" font-size="10.3" text-anchor="middle" font-weight="normal" fill="#333" stroke="#333" stroke-width="0.12">M12 Side Conn</text>
<path d="M50.6,389 Q50.6,386.5 53,386.5 L108,386.5 Q110.2,386.5 110.2,389 L111.2,449.9 L49.2,449.9 Z" fill="none" stroke="#2e2e2e" stroke-width="1.34"/>
<rect x="48" y="449.9" width="64" height="10.1" fill="none" stroke="#2e2e2e" stroke-width="1.34"/>
<path d="M73.4,460 L73.4,482 Q73.4,483.3 75,483.3 L85.2,483.3 Q86.8,483.3 86.8,482 L86.8,460" fill="none" stroke="#2e2e2e" stroke-width="1.23"/>
<rect x="62.2" y="370" width="34.8" height="16.3" fill="none" stroke="#2e2e2e" stroke-width="1.23"/>
<line x1="64.5" y1="370" x2="64.5" y2="386.3" stroke="#2e2e2e" stroke-width="0.95"/>
<line x1="71.5" y1="370" x2="71.5" y2="386.3" stroke="#2e2e2e" stroke-width="1.04"/>
<line x1="89.5" y1="370" x2="89.5" y2="386.3" stroke="#2e2e2e" stroke-width="1.04"/>
<line x1="95.5" y1="370" x2="95.5" y2="386.3" stroke="#2e2e2e" stroke-width="0.95"/>
<circle cx="80.3" cy="373.6" r="1.5" fill="none" stroke="#2e2e2e" stroke-width="1.17"/>
<rect x="75.3" y="372.4" width="1.5" height="2.4" fill="#aaa"/><rect x="83.8" y="372.4" width="1.5" height="2.4" fill="#aaa"/>
<circle cx="80.3" cy="377.4" r="1.5" fill="none" stroke="#2e2e2e" stroke-width="1.17"/>
<rect x="75.3" y="376.2" width="1.5" height="2.4" fill="#aaa"/><rect x="83.8" y="376.2" width="1.5" height="2.4" fill="#aaa"/>
<circle cx="80.3" cy="381.2" r="1.5" fill="none" stroke="#2e2e2e" stroke-width="1.17"/>
<rect x="75.3" y="380" width="1.5" height="2.4" fill="#aaa"/><rect x="83.8" y="380" width="1.5" height="2.4" fill="#aaa"/>
<path d="M61.6,370 L61.6,365.4 L63.6,363.4 L95.6,363.4 L97.6,365.4 L97.6,370 Z" fill="#fff" stroke="#2e2e2e" stroke-width="1.12"/>
<line x1="61.6" y1="368.5" x2="97.6" y2="368.5" stroke="#2e2e2e" stroke-width="0.95"/>
<path d="M66.4,363.4 L66.4,349.6 L67.6,348.4 L93.4,348.4 L94.6,349.6 L94.6,363.4" fill="#fff" stroke="#2e2e2e" stroke-width="1.23"/>
<line x1="66.9" y1="349.8" x2="94.1" y2="349.8" stroke="#444" stroke-width="1.12"/>
<line x1="67.2" y1="351.5" x2="93.8" y2="351.5" stroke="#444" stroke-width="1"/>
<line x1="67.2" y1="353.5" x2="93.8" y2="353.5" stroke="#444" stroke-width="1"/>
<line x1="67.2" y1="355.5" x2="93.8" y2="355.5" stroke="#444" stroke-width="1"/>
<line x1="67.2" y1="357.5" x2="93.8" y2="357.5" stroke="#444" stroke-width="1"/>
<line x1="67.2" y1="359.5" x2="93.8" y2="359.5" stroke="#444" stroke-width="1"/>
<line x1="67.2" y1="361.5" x2="93.8" y2="361.5" stroke="#444" stroke-width="1"/>
<line x1="80.5" y1="339" x2="80.5" y2="491" stroke="#2e2e2e" stroke-width="0.95" stroke-dasharray="2.5 1.2"/>
<line x1="34" y1="349.5" x2="64.6" y2="349.5" stroke="#2e2e2e" stroke-width="0.95"/>
<line x1="33.5" y1="386.5" x2="50" y2="386.5" stroke="#2e2e2e" stroke-width="0.95"/>
<line x1="37.6" y1="369.5" x2="59.8" y2="369.5" stroke="#2e2e2e" stroke-width="0.95"/>
<line x1="35.5" y1="349" x2="35.5" y2="355.6" stroke="#2e2e2e" stroke-width="0.95"/>
<line x1="35.5" y1="364" x2="35.5" y2="386.2" stroke="#2e2e2e" stroke-width="0.95"/>
<polygon points="35.8,349 34.35,352.6 37.25,352.6" fill="#2e2e2e"/>
<polygon points="35.8,386.2 34.35,382.6 37.25,382.6" fill="#2e2e2e"/>
<text x="36.6" y="361.6" font-size="5.6" text-anchor="middle" font-weight="normal" fill="#333" stroke="#444" stroke-width="0.06">1.21"</text>
<line x1="47.5" y1="369.4" x2="47.5" y2="386.2" stroke="#2e2e2e" stroke-width="0.95"/>
<polygon points="47.2,369.4 45.75,373 48.65,373" fill="#2e2e2e"/>
<polygon points="47.2,386.2 45.75,382.6 48.65,382.6" fill="#2e2e2e"/>
<text x="48" y="380.2" font-size="5.6" text-anchor="middle" font-weight="normal" fill="#333" stroke="#444" stroke-width="0.06">0.54"</text>
<line x1="33.5" y1="459.5" x2="45.2" y2="459.5" stroke="#2e2e2e" stroke-width="0.95"/>
<line x1="37.5" y1="387" x2="37.5" y2="411" stroke="#2e2e2e" stroke-width="0.95"/>
<line x1="37.5" y1="430.5" x2="37.5" y2="459.5" stroke="#2e2e2e" stroke-width="0.95"/>
<polygon points="37.4,386.5 35.95,390.1 38.85,390.1" fill="#2e2e2e"/>
<polygon points="37.4,459.5 35.95,455.9 38.85,455.9" fill="#2e2e2e"/>
<text x="37.8" y="422" font-size="5.6" text-anchor="middle" font-weight="normal" fill="#333" stroke="#444" stroke-width="0.06">2.06"</text>
<path d="M150.5,475 L150.5,382.5 Q150.5,381 152,381 L193,381 Q195.2,381 195.2,383.5 L195.2,412.5" fill="none" stroke="#2e2e2e" stroke-width="1.34"/>
<line x1="152.5" y1="381" x2="152.5" y2="475" stroke="#2e2e2e" stroke-width="0.95"/>
<path d="M191.8,383 Q191.6,384 191.6,386 L191.6,404.5 Q191.6,407.5 194.5,408" fill="none" stroke="#2e2e2e" stroke-width="1.17"/>
<line x1="150.5" y1="399.5" x2="195.2" y2="399.5" stroke="#2e2e2e" stroke-width="1.17"/>
<line x1="150.5" y1="415.4" x2="195.4" y2="413.2" stroke="#2e2e2e" stroke-width="1.23"/>
<line x1="195.4" y1="412.5" x2="195.4" y2="476" stroke="#2e2e2e" stroke-width="1.23"/>
<rect x="195.4" y="411.5" width="9.3" height="64.5" fill="none" stroke="#2e2e2e" stroke-width="1.23"/>
<line x1="150.5" y1="473.6" x2="195.4" y2="475.2" stroke="#2e2e2e" stroke-width="1.23"/>
<rect x="204.7" y="437.6" width="23.5" height="12.8" fill="none" stroke="#2e2e2e" stroke-width="1.23"/>
<path d="M154.2,381 L154.2,377.2 L156.2,375.2 L187.4,375.2 L189.4,377.2 L189.4,381 Z" fill="#fff" stroke="#2e2e2e" stroke-width="1.12"/>
<line x1="154.2" y1="379.5" x2="189.4" y2="379.5" stroke="#2e2e2e" stroke-width="0.95"/>
<path d="M157.9,375.2 L157.9,361.7 L159.1,360.5 L183.1,360.5 L184.3,361.7 L184.3,375.2" fill="#fff" stroke="#2e2e2e" stroke-width="1.23"/>
<line x1="158.4" y1="361.9" x2="183.8" y2="361.9" stroke="#444" stroke-width="1.12"/>
<line x1="158.7" y1="363.5" x2="183.5" y2="363.5" stroke="#444" stroke-width="1"/>
<line x1="158.7" y1="365.5" x2="183.5" y2="365.5" stroke="#444" stroke-width="1"/>
<line x1="158.7" y1="367.5" x2="183.5" y2="367.5" stroke="#444" stroke-width="1"/>
<line x1="158.7" y1="369.5" x2="183.5" y2="369.5" stroke="#444" stroke-width="1"/>
<line x1="158.7" y1="371.5" x2="183.5" y2="371.5" stroke="#444" stroke-width="1"/>
<line x1="133" y1="443.5" x2="237" y2="443.5" stroke="#2e2e2e" stroke-width="0.95" stroke-dasharray="6 1.2 1.2 1.2"/>
<line x1="171.5" y1="348.8" x2="171.5" y2="387.7" stroke="#2e2e2e" stroke-width="0.95" stroke-dasharray="8 1 1.5 1"/>
<line x1="204.5" y1="348" x2="204.5" y2="411.5" stroke="#2e2e2e" stroke-width="0.95"/>
<line x1="171" y1="352.5" x2="180" y2="352.5" stroke="#2e2e2e" stroke-width="0.95"/>
<line x1="199" y1="352.5" x2="204.8" y2="352.5" stroke="#2e2e2e" stroke-width="0.95"/>
<polygon points="171,352.9 174.6,351.45 174.6,354.35" fill="#2e2e2e"/>
<polygon points="204.8,352.9 201.2,351.45 201.2,354.35" fill="#2e2e2e"/>
<text x="189.5" y="354.9" font-size="5.6" text-anchor="middle" font-weight="normal" fill="#333" stroke="#444" stroke-width="0.06">1.05"</text>
<line x1="132.2" y1="358.5" x2="157.9" y2="358.5" stroke="#2e2e2e" stroke-width="0.95"/>
<line x1="135.5" y1="358.8" x2="135.5" y2="405" stroke="#2e2e2e" stroke-width="0.95"/>
<line x1="135.5" y1="414.5" x2="135.5" y2="443.5" stroke="#2e2e2e" stroke-width="0.95"/>
<polygon points="135.6,358.8 134.15,362.4 137.05,362.4" fill="#2e2e2e"/>
<polygon points="135.6,443.5 134.15,439.9 137.05,439.9" fill="#2e2e2e"/>
<text x="135.2" y="411.5" font-size="5.6" text-anchor="middle" font-weight="normal" fill="#333" stroke="#444" stroke-width="0.06">2.69"</text>
<line x1="138" y1="381.5" x2="150.5" y2="381.5" stroke="#2e2e2e" stroke-width="0.95"/>
<line x1="138" y1="399.5" x2="150.5" y2="399.5" stroke="#2e2e2e" stroke-width="0.95"/>
<line x1="142.5" y1="381.3" x2="142.5" y2="399.5" stroke="#2e2e2e" stroke-width="0.95"/>
<polygon points="142.9,381.3 141.45,384.9 144.35,384.9" fill="#2e2e2e"/>
<polygon points="142.9,399.5 141.45,395.9 144.35,395.9" fill="#2e2e2e"/>
<text x="142.9" y="391.3" font-size="5.6" text-anchor="middle" font-weight="normal" fill="#333" stroke="#444" stroke-width="0.06">0.54"</text>
<line x1="150.5" y1="476" x2="150.5" y2="490" stroke="#2e2e2e" stroke-width="0.95"/>
<line x1="204.5" y1="476" x2="204.5" y2="490" stroke="#2e2e2e" stroke-width="0.95"/>
<line x1="150" y1="487.5" x2="168.86" y2="487.5" stroke="#2e2e2e" stroke-width="0.95"/>
<line x1="186.74" y1="487.5" x2="204.7" y2="487.5" stroke="#2e2e2e" stroke-width="0.95"/>
<polygon points="150,487.2 153.6,485.75 153.6,488.65" fill="#2e2e2e"/>
<polygon points="204.7,487.2 201.1,485.75 201.1,488.65" fill="#2e2e2e"/>
<text x="177.8" y="489.2" font-size="5.6" text-anchor="middle" font-weight="normal" fill="#333" stroke="#444" stroke-width="0.06">1.75"</text>
<path d="M293.7,395.5 Q293.7,393 296.2,393 L349.5,393 Q352,393 352,395.5 L353,457.8 L292.8,457.8 Z" fill="none" stroke="#2e2e2e" stroke-width="1.34"/>
<rect x="291.8" y="457.8" width="62.8" height="9.4" fill="none" stroke="#2e2e2e" stroke-width="1.34"/>
<path d="M316,467.2 L316,487.5 Q316,488.8 317.5,488.8 L327.2,488.8 Q328.7,488.8 328.7,487.5 L328.7,467.2" fill="none" stroke="#2e2e2e" stroke-width="1.23"/>
<rect x="301.3" y="376.5" width="42.7" height="16.2" fill="none" stroke="#2e2e2e" stroke-width="1.23"/>
<line x1="302.5" y1="376.5" x2="302.5" y2="392.7" stroke="#2e2e2e" stroke-width="0.95"/>
<line x1="314.5" y1="376.5" x2="314.5" y2="392.7" stroke="#2e2e2e" stroke-width="1.17"/>
<line x1="331.5" y1="376.5" x2="331.5" y2="392.7" stroke="#2e2e2e" stroke-width="1.17"/>
<line x1="342.5" y1="376.5" x2="342.5" y2="392.7" stroke="#2e2e2e" stroke-width="0.95"/>
<circle cx="322.3" cy="380.3" r="1.7" fill="none" stroke="#2e2e2e" stroke-width="1.12"/>
<rect x="317.8" y="379.1" width="1.6" height="2.4" fill="#aaa"/><rect x="326.3" y="379.1" width="1.6" height="2.4" fill="#aaa"/>
<circle cx="322.3" cy="384.5" r="1.7" fill="none" stroke="#2e2e2e" stroke-width="1.12"/>
<rect x="317.8" y="383.3" width="1.6" height="2.4" fill="#aaa"/><rect x="326.3" y="383.3" width="1.6" height="2.4" fill="#aaa"/>
<circle cx="322.3" cy="388.7" r="1.7" fill="none" stroke="#2e2e2e" stroke-width="1.12"/>
<rect x="317.8" y="387.5" width="1.6" height="2.4" fill="#aaa"/><rect x="326.3" y="387.5" width="1.6" height="2.4" fill="#aaa"/>
<path d="M301.3,376.5 L301.3,371.8 L303.3,369.8 L342,369.8 L344,371.8 L344,376.5 Z" fill="#fff" stroke="#2e2e2e" stroke-width="1.12"/>
<line x1="301.3" y1="375.5" x2="344" y2="375.5" stroke="#2e2e2e" stroke-width="0.95"/>
<path d="M305.6,369.8 L305.6,356.3 L306.8,355.1 L338,355.1 L339.2,356.3 L339.2,369.8" fill="#fff" stroke="#2e2e2e" stroke-width="1.23"/>
<line x1="306.1" y1="356.5" x2="338.7" y2="356.5" stroke="#444" stroke-width="1.12"/>
<line x1="306.4" y1="358.5" x2="338.4" y2="358.5" stroke="#444" stroke-width="1"/>
<line x1="306.4" y1="360.5" x2="338.4" y2="360.5" stroke="#444" stroke-width="1"/>
<line x1="306.4" y1="362.5" x2="338.4" y2="362.5" stroke="#444" stroke-width="1"/>
<line x1="306.4" y1="364.5" x2="338.4" y2="364.5" stroke="#444" stroke-width="1"/>
<line x1="306.4" y1="366.5" x2="338.4" y2="366.5" stroke="#444" stroke-width="1"/>
<line x1="322.5" y1="350" x2="322.5" y2="492" stroke="#2e2e2e" stroke-width="0.95" stroke-dasharray="2.5 1.2"/>
<line x1="276" y1="355.5" x2="305.6" y2="355.5" stroke="#2e2e2e" stroke-width="0.95"/>
<line x1="286" y1="376.5" x2="301" y2="376.5" stroke="#2e2e2e" stroke-width="0.95"/>
<line x1="276" y1="393.5" x2="293.7" y2="393.5" stroke="#2e2e2e" stroke-width="0.95"/>
<line x1="279.5" y1="355.3" x2="279.5" y2="362" stroke="#2e2e2e" stroke-width="0.95"/>
<line x1="279.5" y1="370" x2="279.5" y2="393" stroke="#2e2e2e" stroke-width="0.95"/>
<polygon points="279.7,355.3 278.25,358.9 281.15,358.9" fill="#2e2e2e"/>
<polygon points="279.7,393 278.25,389.4 281.15,389.4" fill="#2e2e2e"/>
<text x="280.5" y="367.6" font-size="5.6" text-anchor="middle" font-weight="normal" fill="#333" stroke="#444" stroke-width="0.06">1.43"</text>
<line x1="289.5" y1="376.5" x2="289.5" y2="393" stroke="#2e2e2e" stroke-width="0.95"/>
<polygon points="289,376.5 287.55,380.1 290.45,380.1" fill="#2e2e2e"/>
<polygon points="289,393 287.55,389.4 290.45,389.4" fill="#2e2e2e"/>
<text x="290" y="386.6" font-size="5.6" text-anchor="middle" font-weight="normal" fill="#333" stroke="#444" stroke-width="0.06">0.54"</text>
<line x1="276" y1="467.5" x2="291.8" y2="467.5" stroke="#2e2e2e" stroke-width="0.95"/>
<line x1="281.5" y1="393.5" x2="281.5" y2="423" stroke="#2e2e2e" stroke-width="0.95"/>
<line x1="281.5" y1="433" x2="281.5" y2="467.2" stroke="#2e2e2e" stroke-width="0.95"/>
<polygon points="281.8,393 280.35,396.6 283.25,396.6" fill="#2e2e2e"/>
<polygon points="281.8,467.2 280.35,463.6 283.25,463.6" fill="#2e2e2e"/>
<text x="282" y="430" font-size="5.6" text-anchor="middle" font-weight="normal" fill="#333" stroke="#444" stroke-width="0.06">2.13"</text>
<path d="M392.2,481 L392.2,375.2 Q392.2,373.7 394,373.7 L433,373.7 Q435.7,373.7 435.7,376.5 L435.7,421.2" fill="none" stroke="#2e2e2e" stroke-width="1.34"/>
<line x1="393.5" y1="373.7" x2="393.5" y2="481" stroke="#2e2e2e" stroke-width="0.95"/>
<path d="M432.2,375.5 Q432,376.5 432,379 L432,415 Q432,418.3 435,418.5" fill="none" stroke="#2e2e2e" stroke-width="1.17"/>
<line x1="392.2" y1="389.5" x2="435.7" y2="389.5" stroke="#2e2e2e" stroke-width="1.17"/>
<line x1="392.2" y1="423.6" x2="435.4" y2="421.2" stroke="#2e2e2e" stroke-width="1.23"/>
<line x1="435.4" y1="421.2" x2="435.4" y2="482.8" stroke="#2e2e2e" stroke-width="1.23"/>
<rect x="435.4" y="420.4" width="9.6" height="63.2" fill="none" stroke="#2e2e2e" stroke-width="1.23"/>
<line x1="392.2" y1="480.4" x2="435.4" y2="482.8" stroke="#2e2e2e" stroke-width="1.23"/>
<rect x="445" y="446" width="22.7" height="12" fill="none" stroke="#2e2e2e" stroke-width="1.23"/>
<path d="M393,373.7 L393,369.7 L395,367.7 L433,367.7 L435,369.7 L435,373.7 Z" fill="#fff" stroke="#2e2e2e" stroke-width="1.12"/>
<line x1="393" y1="372.5" x2="435" y2="372.5" stroke="#2e2e2e" stroke-width="0.95"/>
<path d="M397.7,367.7 L397.7,353.2 L398.9,352 L430.5,352 L431.7,353.2 L431.7,367.7" fill="#fff" stroke="#2e2e2e" stroke-width="1.23"/>
<line x1="398.2" y1="353.4" x2="431.2" y2="353.4" stroke="#444" stroke-width="1.12"/>
<line x1="398.5" y1="355.5" x2="430.9" y2="355.5" stroke="#444" stroke-width="1"/>
<line x1="398.5" y1="357.5" x2="430.9" y2="357.5" stroke="#444" stroke-width="1"/>
<line x1="398.5" y1="359.5" x2="430.9" y2="359.5" stroke="#444" stroke-width="1"/>
<line x1="398.5" y1="361.5" x2="430.9" y2="361.5" stroke="#444" stroke-width="1"/>
<line x1="398.5" y1="363.5" x2="430.9" y2="363.5" stroke="#444" stroke-width="1"/>
<line x1="398.5" y1="365.5" x2="430.9" y2="365.5" stroke="#444" stroke-width="1"/>
<line x1="372.2" y1="452.5" x2="475.4" y2="452.5" stroke="#2e2e2e" stroke-width="0.95" stroke-dasharray="6 1.2 1.2 1.2"/>
<line x1="413.5" y1="340.3" x2="413.5" y2="381.7" stroke="#2e2e2e" stroke-width="0.95" stroke-dasharray="8 1 1.5 1"/>
<line x1="445.5" y1="340" x2="445.5" y2="420.4" stroke="#2e2e2e" stroke-width="0.95"/>
<line x1="413.3" y1="343.5" x2="421" y2="343.5" stroke="#2e2e2e" stroke-width="0.95"/>
<line x1="441" y1="343.5" x2="445" y2="343.5" stroke="#2e2e2e" stroke-width="0.95"/>
<polygon points="413.3,343.3 416.9,341.85 416.9,344.75" fill="#2e2e2e"/>
<polygon points="445,343.3 441.4,341.85 441.4,344.75" fill="#2e2e2e"/>
<text x="431.5" y="345.3" font-size="5.6" text-anchor="middle" font-weight="normal" fill="#333" stroke="#444" stroke-width="0.06">1.05"</text>
<line x1="372.3" y1="351.5" x2="397.7" y2="351.5" stroke="#2e2e2e" stroke-width="0.95"/>
<line x1="376.5" y1="351.7" x2="376.5" y2="406" stroke="#2e2e2e" stroke-width="0.95"/>
<line x1="376.5" y1="415" x2="376.5" y2="452.1" stroke="#2e2e2e" stroke-width="0.95"/>
<polygon points="376.3,351.7 374.85,355.3 377.75,355.3" fill="#2e2e2e"/>
<polygon points="376.3,452.1 374.85,448.5 377.75,448.5" fill="#2e2e2e"/>
<text x="376" y="413" font-size="5.6" text-anchor="middle" font-weight="normal" fill="#333" stroke="#444" stroke-width="0.06">3.28"</text>
<line x1="380" y1="373.5" x2="392.2" y2="373.5" stroke="#2e2e2e" stroke-width="0.95"/>
<line x1="380" y1="389.5" x2="392.2" y2="389.5" stroke="#2e2e2e" stroke-width="0.95"/>
<line x1="384.5" y1="373.4" x2="384.5" y2="389.4" stroke="#2e2e2e" stroke-width="0.95"/>
<polygon points="384.3,373.4 382.85,377 385.75,377" fill="#2e2e2e"/>
<polygon points="384.3,389.4 382.85,385.8 385.75,385.8" fill="#2e2e2e"/>
<text x="384" y="383.3" font-size="5.6" text-anchor="middle" font-weight="normal" fill="#333" stroke="#444" stroke-width="0.06">0.54"</text>
<line x1="391.5" y1="483" x2="391.5" y2="497.2" stroke="#2e2e2e" stroke-width="0.95"/>
<line x1="445.5" y1="484" x2="445.5" y2="497.2" stroke="#2e2e2e" stroke-width="0.95"/>
<line x1="391.9" y1="493.5" x2="409.06" y2="493.5" stroke="#2e2e2e" stroke-width="0.95"/>
<line x1="426.94" y1="493.5" x2="445" y2="493.5" stroke="#2e2e2e" stroke-width="0.95"/>
<polygon points="391.9,493.5 395.5,492.05 395.5,494.95" fill="#2e2e2e"/>
<polygon points="445,493.5 441.4,492.05 441.4,494.95" fill="#2e2e2e"/>
<text x="418" y="495.5" font-size="5.6" text-anchor="middle" font-weight="normal" fill="#333" stroke="#444" stroke-width="0.06">1.75"</text>
<path d="M510.1,391 Q510.1,388.2 513,388.2 L578.5,388.2 Q581.4,388.2 581.4,391 L583.9,434.4 L507.7,434.4 Z" fill="none" stroke="#2e2e2e" stroke-width="1.34"/>
<rect x="506" y="434.4" width="79.2" height="10.6" fill="none" stroke="#2e2e2e" stroke-width="1.34"/>
<path d="M537.7,445 L537.7,468 Q537.7,469.3 539.2,469.3 L552.4,469.3 Q553.9,469.3 553.9,468 L553.9,445" fill="none" stroke="#2e2e2e" stroke-width="1.23"/>
<rect x="532.3" y="381" width="28.9" height="6.4" fill="#fff" stroke="#2e2e2e" stroke-width="1.12"/>
<line x1="532.3" y1="384.5" x2="561.2" y2="384.5" stroke="#2e2e2e" stroke-width="0.95"/>
<line x1="536.5" y1="382.2" x2="536.5" y2="384" stroke="#888" stroke-width="0.95"/>
<line x1="541.5" y1="382.2" x2="541.5" y2="384" stroke="#888" stroke-width="0.95"/>
<line x1="546.5" y1="382.2" x2="546.5" y2="384" stroke="#888" stroke-width="0.95"/>
<line x1="551.5" y1="382.2" x2="551.5" y2="384" stroke="#888" stroke-width="0.95"/>
<line x1="556.5" y1="382.2" x2="556.5" y2="384" stroke="#888" stroke-width="0.95"/>
<rect x="537.2" y="368.8" width="19.4" height="11.3" rx="2" fill="#333" stroke="#2e2e2e" stroke-width="1.12"/>
<line x1="538.5" y1="371.5" x2="555.3" y2="371.5" stroke="#666" stroke-width="0.95"/>
<line x1="538.5" y1="377.5" x2="555.3" y2="377.5" stroke="#666" stroke-width="0.95"/>
<line x1="545.5" y1="358" x2="545.5" y2="475" stroke="#2e2e2e" stroke-width="0.95" stroke-dasharray="2.5 1.2"/>
<line x1="489" y1="368.5" x2="535.2" y2="368.5" stroke="#2e2e2e" stroke-width="0.95"/>
<line x1="493.5" y1="358" x2="493.5" y2="368.3" stroke="#2e2e2e" stroke-width="0.95"/>
<polygon points="493.9,368.3 492.45,364.7 495.35,364.7" fill="#2e2e2e"/>
<text x="491.9" y="381.6" font-size="5.6" text-anchor="middle" font-weight="normal" fill="#333" stroke="#444" stroke-width="0.06">.58"</text>
<line x1="488.2" y1="386.5" x2="507.7" y2="386.5" stroke="#2e2e2e" stroke-width="0.95"/>
<line x1="488.2" y1="444.5" x2="506" y2="444.5" stroke="#2e2e2e" stroke-width="0.95"/>
<line x1="494.5" y1="386.6" x2="494.5" y2="409" stroke="#2e2e2e" stroke-width="0.95"/>
<line x1="494.5" y1="427.5" x2="494.5" y2="444.6" stroke="#2e2e2e" stroke-width="0.95"/>
<polygon points="494,386.6 492.55,390.2 495.45,390.2" fill="#2e2e2e"/>
<polygon points="494,444.6 492.55,441 495.45,441" fill="#2e2e2e"/>
<text x="494.3" y="420.2" font-size="5.6" text-anchor="middle" font-weight="normal" fill="#333" stroke="#444" stroke-width="0.06">1.80"</text>
<path d="M632.1,395.1 L632.1,382.1 L670.9,382.1 L670.9,395.6" fill="none" stroke="#2e2e2e" stroke-width="1.23"/>
<path d="M632.1,395.1 Q651.7,407.3 670.9,395.6" fill="none" stroke="#2e2e2e" stroke-width="1.12"/>
<path d="M631.2,398.9 Q651.7,409.5 672.8,397.5" fill="none" stroke="#2e2e2e" stroke-width="1.23"/>
<line x1="631.4" y1="398.9" x2="631.4" y2="460" stroke="#2e2e2e" stroke-width="1.34"/>
<line x1="632.5" y1="400" x2="632.5" y2="460" stroke="#2e2e2e" stroke-width="0.95"/>
<line x1="672.8" y1="397.3" x2="685.6" y2="397" stroke="#2e2e2e" stroke-width="1.12"/>
<rect x="685.6" y="395.8" width="11.4" height="66.7" fill="none" stroke="#2e2e2e" stroke-width="1.23"/>
<line x1="631.7" y1="460" x2="685.6" y2="462.5" stroke="#2e2e2e" stroke-width="1.23"/>
<rect x="697" y="422.6" width="28.3" height="13.8" fill="none" stroke="#2e2e2e" stroke-width="1.23"/>
<rect x="637.4" y="376.9" width="27.4" height="5.6" fill="#fff" stroke="#2e2e2e" stroke-width="1.12"/>
<line x1="637.4" y1="380.5" x2="664.8" y2="380.5" stroke="#2e2e2e" stroke-width="0.95"/>
<rect x="642.1" y="362.9" width="19.4" height="13.6" rx="2" fill="#333" stroke="#2e2e2e" stroke-width="1.12"/>
<line x1="643.5" y1="366.5" x2="660" y2="366.5" stroke="#666" stroke-width="0.95"/>
<line x1="643.5" y1="373.5" x2="660" y2="373.5" stroke="#666" stroke-width="0.95"/>
<line x1="643.5" y1="377" x2="643.5" y2="382.5" stroke="#2e2e2e" stroke-width="0.95"/>
<line x1="658.5" y1="377" x2="658.5" y2="382.5" stroke="#2e2e2e" stroke-width="0.95"/>
<line x1="616.6" y1="429.5" x2="735.7" y2="429.5" stroke="#2e2e2e" stroke-width="0.95" stroke-dasharray="6 1.2 1.2 1.2"/>
<line x1="651.5" y1="349.5" x2="651.5" y2="409" stroke="#2e2e2e" stroke-width="0.95" stroke-dasharray="8 1 1.5 1"/>
<line x1="697.5" y1="346" x2="697.5" y2="395.8" stroke="#2e2e2e" stroke-width="0.95"/>
<line x1="651.6" y1="351.5" x2="662" y2="351.5" stroke="#2e2e2e" stroke-width="0.95"/>
<line x1="684" y1="351.5" x2="697.3" y2="351.5" stroke="#2e2e2e" stroke-width="0.95"/>
<polygon points="651.6,351 655.2,349.55 655.2,352.45" fill="#2e2e2e"/>
<polygon points="697.3,351 693.7,349.55 693.7,352.45" fill="#2e2e2e"/>
<text x="673.8" y="353" font-size="5.6" text-anchor="middle" font-weight="normal" fill="#333" stroke="#444" stroke-width="0.06">1.23"</text>
<line x1="613.8" y1="362.5" x2="640.2" y2="362.5" stroke="#2e2e2e" stroke-width="0.95"/>
<line x1="618.5" y1="362.3" x2="618.5" y2="387" stroke="#2e2e2e" stroke-width="0.95"/>
<line x1="618.5" y1="400.5" x2="618.5" y2="429.4" stroke="#2e2e2e" stroke-width="0.95"/>
<polygon points="618,362.3 616.55,365.9 619.45,365.9" fill="#2e2e2e"/>
<polygon points="618,429.4 616.55,425.8 619.45,425.8" fill="#2e2e2e"/>
<text x="618" y="396.7" font-size="5.6" text-anchor="middle" font-weight="normal" fill="#333" stroke="#444" stroke-width="0.06">1.97"</text>
<line x1="630.5" y1="462" x2="630.5" y2="478" stroke="#2e2e2e" stroke-width="0.95"/>
<line x1="697.5" y1="463" x2="697.5" y2="478" stroke="#2e2e2e" stroke-width="0.95"/>
<line x1="630" y1="474.5" x2="654.86" y2="474.5" stroke="#2e2e2e" stroke-width="0.95"/>
<line x1="672.74" y1="474.5" x2="697.3" y2="474.5" stroke="#2e2e2e" stroke-width="0.95"/>
<polygon points="630,474.6 633.6,473.15 633.6,476.05" fill="#2e2e2e"/>
<polygon points="697.3,474.6 693.7,473.15 693.7,476.05" fill="#2e2e2e"/>
<text x="663.8" y="476.6" font-size="5.6" text-anchor="middle" font-weight="normal" fill="#333" stroke="#444" stroke-width="0.06">1.75"</text>
<text x="66.7" y="509.7" font-size="10.2" fill="#333" stroke="#333" stroke-width="0.12">Code 8: 0-5 dimensions shown with LED Output Indicator Option (Code 9: <tspan font-weight="bold" stroke-width="0.3">PS</tspan>)</text>
<text x="23.9" y="548.6" font-size="10.3" text-anchor="start" font-weight="bold" fill="#333" stroke="#333" stroke-width="0.3">6, 8, A, C, E, G, L</text>
<text x="23.9" y="560.8" font-size="10.3" text-anchor="start" font-weight="normal" fill="#333" stroke="#333" stroke-width="0.12">End Exit Cable</text>
<text x="136.4" y="548.6" font-size="10.3" text-anchor="start" font-weight="bold" fill="#333" stroke="#333" stroke-width="0.3">7, 9, B, D, F, H, M</text>
<text x="136.4" y="560.8" font-size="10.3" text-anchor="start" font-weight="normal" fill="#333" stroke="#333" stroke-width="0.12">Side Exit Cable</text>
<path d="M38,631.2 Q38,628.7 40.5,628.7 L102.5,628.7 Q105,628.7 105,631.2 L107,679 L36,679 Z" fill="none" stroke="#2e2e2e" stroke-width="1.34"/>
<rect x="34.8" y="679" width="72" height="10.9" fill="none" stroke="#2e2e2e" stroke-width="1.34"/>
<path d="M63.6,689.9 L63.6,715.5 Q63.6,716.9 65,716.9 L76,716.9 Q77.4,716.9 77.4,715.5 L77.4,689.9" fill="none" stroke="#2e2e2e" stroke-width="1.23"/>
<path d="M62.4,602.6 L62.4,585.2 Q62.4,582.2 66.4,582.2 Q69.4,582.2 70.4,583.7" fill="none" stroke="#2e2e2e" stroke-width="1.23"/>
<line x1="78.6" y1="585.2" x2="78.6" y2="602.6" stroke="#2e2e2e" stroke-width="1.23"/>
<ellipse cx="74.39" cy="585.1" rx="4.05" ry="2.3" fill="none" stroke="#2e2e2e" stroke-width="1.1"/>
<rect x="59.5" y="602.6" width="21.6" height="3" fill="#fff" stroke="#2e2e2e" stroke-width="1.12"/>
<rect x="56.9" y="605.6" width="26.8" height="11.9" rx="0.6" fill="#fff" stroke="#2e2e2e" stroke-width="1.23"/>
<line x1="62.5" y1="605.6" x2="62.5" y2="617.5" stroke="#2e2e2e" stroke-width="1.04"/>
<line x1="78.5" y1="605.6" x2="78.5" y2="617.5" stroke="#2e2e2e" stroke-width="1.04"/>
<line x1="58" y1="618.5" x2="82.6" y2="618.5" stroke="#777" stroke-width="1.04"/>
<rect x="56.9" y="620" width="26.8" height="8.7" rx="0.6" fill="#fff" stroke="#2e2e2e" stroke-width="1.23"/>
<line x1="62.5" y1="620" x2="62.5" y2="628.7" stroke="#2e2e2e" stroke-width="1.04"/>
<line x1="78.5" y1="620" x2="78.5" y2="628.7" stroke="#2e2e2e" stroke-width="1.04"/>
<line x1="71.5" y1="578.6" x2="71.5" y2="723.4" stroke="#2e2e2e" stroke-width="0.95" stroke-dasharray="2.5 1.2"/>
<line x1="18.6" y1="602.5" x2="54.3" y2="602.5" stroke="#2e2e2e" stroke-width="0.95"/>
<line x1="23.5" y1="590.5" x2="23.5" y2="602.4" stroke="#2e2e2e" stroke-width="0.95"/>
<polygon points="23.4,602.4 21.95,598.8 24.85,598.8" fill="#2e2e2e"/>
<text x="22.4" y="616.4" font-size="5.6" text-anchor="middle" font-weight="normal" fill="#333" stroke="#444" stroke-width="0.06">0.85"</text>
<line x1="18.6" y1="627.5" x2="36" y2="627.5" stroke="#2e2e2e" stroke-width="0.95"/>
<line x1="18.6" y1="688.5" x2="34.8" y2="688.5" stroke="#2e2e2e" stroke-width="0.95"/>
<line x1="23.5" y1="627.9" x2="23.5" y2="651" stroke="#2e2e2e" stroke-width="0.95"/>
<line x1="23.5" y1="662" x2="23.5" y2="688.8" stroke="#2e2e2e" stroke-width="0.95"/>
<polygon points="23.4,627.9 21.95,631.5 24.85,631.5" fill="#2e2e2e"/>
<polygon points="23.4,688.8 21.95,685.2 24.85,685.2" fill="#2e2e2e"/>
<text x="23" y="660.3" font-size="5.6" text-anchor="middle" font-weight="normal" fill="#333" stroke="#444" stroke-width="0.06">1.80"</text>
<path d="M160,598.4 L160,580.2 Q160,577.2 164,577.2 Q167,577.2 168,578.7" fill="none" stroke="#2e2e2e" stroke-width="1.23"/>
<line x1="177.2" y1="580.2" x2="177.2" y2="598.4" stroke="#2e2e2e" stroke-width="1.23"/>
<ellipse cx="172.73" cy="580.1" rx="4.3" ry="2.3" fill="none" stroke="#2e2e2e" stroke-width="1.1"/>
<rect x="157" y="598.4" width="23.2" height="2.8" fill="#fff" stroke="#2e2e2e" stroke-width="1.12"/>
<rect x="154" y="601.2" width="27.7" height="11.2" rx="0.6" fill="#fff" stroke="#2e2e2e" stroke-width="1.23"/>
<line x1="159.5" y1="601.2" x2="159.5" y2="612.4" stroke="#2e2e2e" stroke-width="1.04"/>
<line x1="175.5" y1="601.2" x2="175.5" y2="612.4" stroke="#2e2e2e" stroke-width="1.04"/>
<line x1="155" y1="613.5" x2="180.7" y2="613.5" stroke="#777" stroke-width="1.04"/>
<rect x="154" y="614" width="27.7" height="8.5" rx="0.6" fill="#fff" stroke="#2e2e2e" stroke-width="1.23"/>
<line x1="159.5" y1="614" x2="159.5" y2="622.5" stroke="#2e2e2e" stroke-width="1.04"/>
<line x1="175.5" y1="614" x2="175.5" y2="622.5" stroke="#2e2e2e" stroke-width="1.04"/>
<path d="M150.2,636.3 L150.2,622.6 L185.2,622.6 L185.2,636.8" fill="none" stroke="#2e2e2e" stroke-width="1.23"/>
<path d="M150.2,636.3 Q167.5,651.5 185.2,636.8" fill="none" stroke="#2e2e2e" stroke-width="1.12"/>
<path d="M149.2,640 Q167.5,652 187.2,639" fill="none" stroke="#2e2e2e" stroke-width="1.23"/>
<line x1="149.2" y1="640" x2="149.2" y2="707.5" stroke="#2e2e2e" stroke-width="1.34"/>
<line x1="150.5" y1="641.5" x2="150.5" y2="707.5" stroke="#2e2e2e" stroke-width="0.95"/>
<line x1="187.2" y1="638.9" x2="198" y2="638.7" stroke="#2e2e2e" stroke-width="1.12"/>
<rect x="198" y="637.4" width="11" height="72.4" fill="none" stroke="#2e2e2e" stroke-width="1.23"/>
<line x1="148.9" y1="707.5" x2="198" y2="709.8" stroke="#2e2e2e" stroke-width="1.23"/>
<rect x="209" y="666.3" width="26.1" height="14.5" fill="none" stroke="#2e2e2e" stroke-width="1.23"/>
<line x1="135.6" y1="673.5" x2="244.7" y2="673.5" stroke="#2e2e2e" stroke-width="0.95" stroke-dasharray="6 1.2 1.2 1.2"/>
<line x1="167.5" y1="570.6" x2="167.5" y2="651.9" stroke="#2e2e2e" stroke-width="0.95" stroke-dasharray="8 1 1.5 1"/>
<line x1="209.5" y1="570" x2="209.5" y2="637.4" stroke="#2e2e2e" stroke-width="0.95"/>
<line x1="167.4" y1="574.5" x2="178" y2="574.5" stroke="#2e2e2e" stroke-width="0.95"/>
<line x1="198" y1="574.5" x2="209" y2="574.5" stroke="#2e2e2e" stroke-width="0.95"/>
<polygon points="167.4,574.4 171,572.95 171,575.85" fill="#2e2e2e"/>
<polygon points="209,574.4 205.4,572.95 205.4,575.85" fill="#2e2e2e"/>
<text x="188.5" y="576.4" font-size="5.6" text-anchor="middle" font-weight="normal" fill="#333" stroke="#444" stroke-width="0.06">1.23"</text>
<line x1="136.7" y1="598.5" x2="157.8" y2="598.5" stroke="#2e2e2e" stroke-width="0.95"/>
<line x1="140.5" y1="598.4" x2="140.5" y2="629.6" stroke="#2e2e2e" stroke-width="0.95"/>
<line x1="140.5" y1="638.5" x2="140.5" y2="673.7" stroke="#2e2e2e" stroke-width="0.95"/>
<polygon points="140,598.4 138.55,602 141.45,602" fill="#2e2e2e"/>
<polygon points="140,673.7 138.55,670.1 141.45,670.1" fill="#2e2e2e"/>
<text x="139.5" y="635.8" font-size="5.6" text-anchor="middle" font-weight="normal" fill="#333" stroke="#444" stroke-width="0.06">2.19"</text>
<line x1="148.5" y1="710" x2="148.5" y2="724" stroke="#2e2e2e" stroke-width="0.95"/>
<line x1="209.5" y1="711" x2="209.5" y2="724" stroke="#2e2e2e" stroke-width="0.95"/>
<line x1="148.9" y1="720.5" x2="172.26" y2="720.5" stroke="#2e2e2e" stroke-width="0.95"/>
<line x1="190.14" y1="720.5" x2="209" y2="720.5" stroke="#2e2e2e" stroke-width="0.95"/>
<polygon points="148.9,720.9 152.5,719.45 152.5,722.35" fill="#2e2e2e"/>
<polygon points="209,720.9 205.4,719.45 205.4,722.35" fill="#2e2e2e"/>
<text x="181.2" y="722.9" font-size="5.6" text-anchor="middle" font-weight="normal" fill="#333" stroke="#444" stroke-width="0.06">1.75"</text>
</svg>
</body></html>
